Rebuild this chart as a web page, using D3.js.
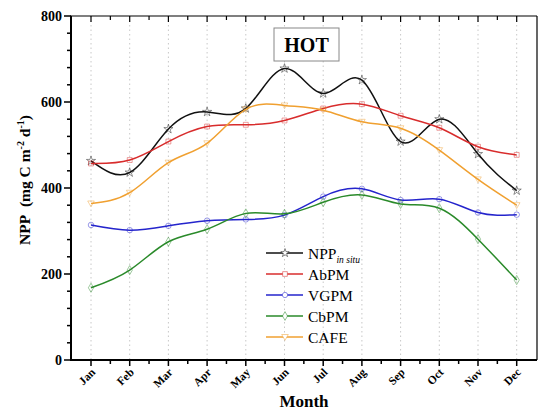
<!DOCTYPE html>
<html><head><meta charset="utf-8">
<script src="https://cdn.jsdelivr.net/npm/d3@7"></script>
<style>body{margin:0;background:#fff}svg{display:block}</style>
</head><body>
<svg id="c" width="539" height="419"></svg>
<script>
const months = ["Jan","Feb","Mar","Apr","May","Jun","Jul","Aug","Sep","Oct","Nov","Dec"];
const nppInSitu = [463,436,537,577,585,678,620,651,508,560,479,394];
const abpm = [457,465,508,543,547,557,585,595,568,540,496,477];
const vgpm = [314,302,312,324,327,337,380,398,372,374,343,338];
const cbpm = [168,209,275,304,341,340,367,384,363,353,281,186];
const cafe = [364,389,459,504,583,592,581,554,539,488,420,360];
const yTicks = [0,200,400,600,800];

const series = [
  {name:"NPP", sub:"in situ", values:nppInSitu, color:"#111111", marker:d3.symbolStar},
  {name:"AbPM", values:abpm, color:"#d82c2c", marker:d3.symbolSquare},
  {name:"VGPM", values:vgpm, color:"#2424cc", marker:d3.symbolCircle},
  {name:"CbPM", values:cbpm, color:"#2a8a2a", marker:d3.symbolDiamond},
  {name:"CAFE", values:cafe, color:"#f0a030", marker:"tri"}
];

const svg = d3.select("#c");
const L=71, R=537, T=16, B=360;
const x = d3.scalePoint().domain(months).range([91,516.7]);
const y = d3.scaleLinear().domain([0,800]).range([B,T]);
const step = x.step();
const serif = "'Liberation Serif','Times New Roman',serif";

// grid
svg.append("g").selectAll("line").data(months).join("line")
  .attr("x1",d=>x(d)).attr("x2",d=>x(d)).attr("y1",T).attr("y2",B)
  .attr("stroke","#c8c8c8").attr("stroke-width",1).attr("stroke-dasharray","1.5,3");

// lines
const line = d3.line().x((d,i)=>x(months[i])).y(d=>y(d)).curve(d3.curveNatural);
const triPath = "M-3.3,-2.5L3.3,-2.5L0,3.3Z";
series.forEach(s=>{
  svg.append("path").attr("d",line(s.values)).attr("fill","none")
    .attr("stroke",s.color).attr("stroke-width",1.5);
  const g = svg.append("g");
  g.selectAll("path").data(s.values).join("path")
    .attr("transform",(d,i)=>`translate(${x(months[i])},${y(d)})`)
    .attr("d", s.marker==="tri" ? triPath : d3.symbol().type(s.marker).size(s.marker===d3.symbolStar?26:24)())
    .attr("fill","none").attr("stroke",s.color).attr("stroke-opacity",0.45).attr("stroke-width",1);
});

// axes frame
const ax = svg.append("g").attr("stroke","#000");
ax.append("line").attr("x1",L).attr("x2",L).attr("y1",T).attr("y2",B+1).attr("stroke-width",2);
ax.append("line").attr("x1",L-1).attr("x2",R).attr("y1",B).attr("y2",B).attr("stroke-width",2);
ax.append("line").attr("x1",L-1).attr("x2",R).attr("y1",T).attr("y2",T).attr("stroke-width",1.2);
ax.append("line").attr("x1",R).attr("x2",R).attr("y1",T).attr("y2",B).attr("stroke-width",1.2);

// y ticks
const yMinor = d3.range(0,801,40);
ax.selectAll(".ym").data(yMinor).join("line")
  .attr("x1",d=>yTicks.includes(d)?L-7:L-4).attr("x2",L).attr("y1",d=>y(d)).attr("y2",d=>y(d)).attr("stroke-width",1.5);
svg.append("g").selectAll("text").data(yTicks).join("text")
  .attr("x",L-9).attr("y",d=>y(d)+5).attr("text-anchor","end")
  .attr("font-family",serif).attr("font-weight","bold").attr("font-size",14).text(d=>d);

// x ticks
const xMinor = months.slice(0,-1).map(m=>x(m)+step/2);
ax.selectAll(".xm").data(months).join("line")
  .attr("x1",d=>x(d)).attr("x2",d=>x(d)).attr("y1",B).attr("y2",B+6).attr("stroke-width",1.5);
ax.selectAll(".xn").data(xMinor).join("line")
  .attr("x1",d=>d).attr("x2",d=>d).attr("y1",B).attr("y2",B+4).attr("stroke-width",1.5);
ax.selectAll(".xt").data(months).join("line")
  .attr("x1",d=>x(d)).attr("x2",d=>x(d)).attr("y1",T).attr("y2",T+6).attr("stroke-width",1.2);
ax.selectAll(".xtn").data(xMinor).join("line")
  .attr("x1",d=>d).attr("x2",d=>d).attr("y1",T).attr("y2",T+4).attr("stroke-width",1.2);
svg.append("g").selectAll("text").data(months).join("text")
  .attr("transform",d=>`translate(${x(d)+5},${B+13}) rotate(-45)`).attr("text-anchor","end")
  .attr("font-family",serif).attr("font-weight","bold").attr("font-size",11.5).text(d=>d);

// axis titles
svg.append("text").attr("x",(L+R)/2).attr("y",407).attr("text-anchor","middle")
  .attr("font-family",serif).attr("font-weight","bold").attr("font-size",17).text("Month");
const yt = svg.append("text").attr("transform",`translate(30,180) rotate(-90)`).attr("text-anchor","middle")
  .attr("font-family",serif).attr("font-weight","bold").attr("font-size",15.5);
yt.append("tspan").text("NPP\u00a0\u00a0(mg C m");
yt.append("tspan").attr("font-size",10).attr("dy",-6).text("-2");
yt.append("tspan").attr("dy",6).text(" d");
yt.append("tspan").attr("font-size",10).attr("dy",-6).text("-1");
yt.append("tspan").attr("dy",6).text(")");

// HOT box
svg.append("rect").attr("x",274).attr("y",28).attr("width",65).attr("height",33)
  .attr("fill","#fff").attr("stroke","#888").attr("stroke-width",1);
svg.append("text").attr("x",306.5).attr("y",52).attr("text-anchor","middle")
  .attr("font-family",serif).attr("font-weight","bold").attr("font-size",20).text("HOT");

// legend
const lg = svg.append("g");
series.forEach((s,i)=>{
  const yy = 253 + i*21;
  lg.append("line").attr("x1",266).attr("x2",303).attr("y1",yy).attr("y2",yy).attr("stroke",s.color).attr("stroke-width",1.5);
  lg.append("path").attr("transform",`translate(285,${yy})`)
    .attr("d", s.marker==="tri" ? triPath : d3.symbol().type(s.marker).size(22)())
    .attr("fill","#fff").attr("stroke",s.color).attr("stroke-opacity",0.5).attr("stroke-width",1);
  const t = lg.append("text").attr("x",308).attr("y",yy+5.5)
    .attr("font-family",serif).attr("font-size",15.5).text(s.name);
  if(s.sub) t.append("tspan").attr("font-size",9.5).attr("font-style","italic").attr("dy",4).text(s.sub);
});
</script>
</body></html>
